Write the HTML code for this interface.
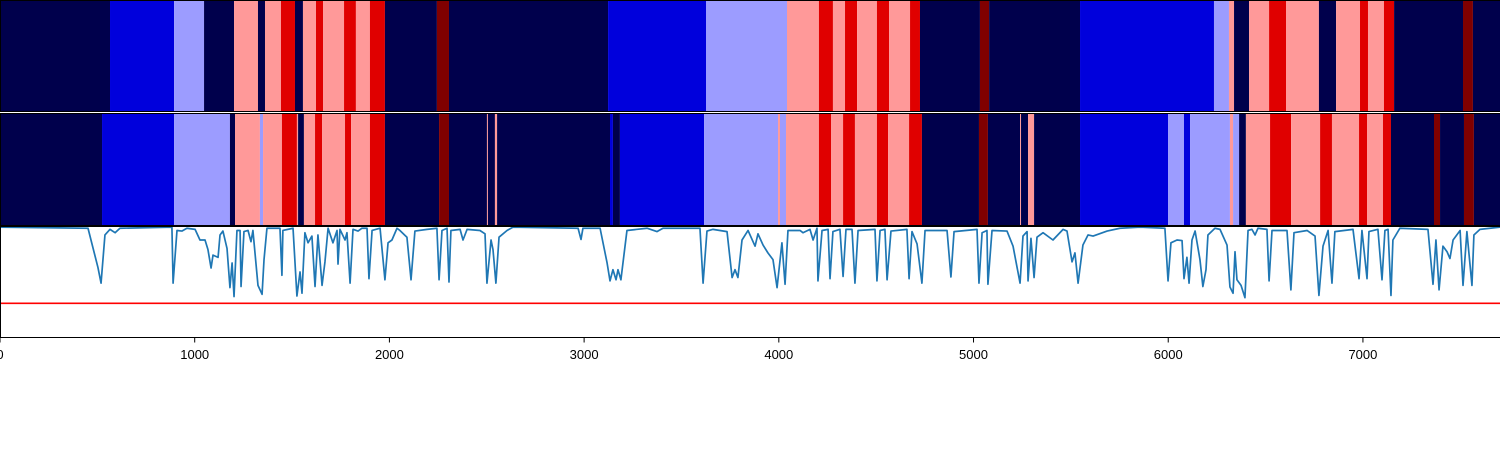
<!DOCTYPE html>
<html><head><meta charset="utf-8"><style>
html,body{margin:0;padding:0;background:#fff;width:1500px;height:450px;overflow:hidden}
svg{display:block;font-family:"Liberation Sans","DejaVu Sans",sans-serif}
</style></head><body>
<svg id="chart" width="1500" height="450"></svg>
<script>
const palette = ["#00004c","#0000dc","#9c9cff","#ff9999","#e00000","#800000"];
const topStarts = [0,565,894,1048,1202,1325,1361,1443,1515,1556,1623,1659,1767,1828,1900,1977,2244,2306,3123,3626,4042,4206,4278,4340,4402,4504,4566,4674,4725,5033,5080,5547,6235,6312,6338,6415,6518,6605,6774,6862,6985,7026,7108,7160,7514,7565];
const topClasses = [0,1,2,0,3,0,3,4,0,3,4,3,4,3,4,0,5,0,1,2,3,4,3,4,3,4,3,4,0,5,0,1,2,3,0,3,4,3,0,3,4,3,4,0,5,0];
const midStarts = [0,524,894,1181,1207,1335,1351,1448,1525,1531,1561,1618,1654,1772,1803,1900,1977,2255,2306,2501,2506,2542,2553,3133,3148,3184,3616,3996,4006,4037,4206,4268,4330,4391,4504,4561,4669,4735,5028,5074,5239,5244,5280,5311,5547,5999,6081,6112,6317,6333,6364,6399,6523,6631,6780,6841,6980,7021,7103,7144,7365,7396,7519,7570];
const midClasses = [0,1,2,0,3,2,3,4,3,0,3,4,3,4,3,4,0,5,0,3,0,3,0,1,0,1,2,3,2,3,4,3,4,3,4,3,4,0,5,0,3,0,3,0,1,2,1,2,3,2,0,3,4,3,4,3,4,3,4,0,5,0,5,0];
const lineX = [0,452,503,519,539,565,591,616,883,889,909,935,960,1002,1027,1053,1068,1084,1094,1120,1130,1145,1166,1181,1192,1202,1217,1233,1238,1253,1274,1289,1299,1325,1346,1356,1371,1438,1448,1453,1505,1525,1541,1551,1566,1582,1602,1618,1633,1654,1669,1685,1710,1731,1736,1746,1772,1782,1798,1813,1839,1859,1885,1895,1911,1952,1977,1993,2013,2039,2054,2090,2111,2131,2193,2244,2255,2270,2296,2306,2316,2363,2378,2399,2465,2491,2501,2522,2532,2547,2563,2604,2635,2969,2984,2994,3082,3118,3133,3148,3164,3174,3189,3220,3323,3374,3405,3595,3611,3631,3662,3734,3760,3775,3790,3811,3842,3878,3893,3919,3944,3970,3991,4016,4032,4047,4109,4124,4160,4176,4196,4201,4222,4253,4263,4278,4314,4330,4345,4376,4391,4407,4494,4504,4520,4545,4556,4576,4658,4669,4684,4710,4735,4751,4864,4884,4900,5018,5028,5044,5069,5074,5095,5172,5203,5239,5254,5275,5280,5295,5311,5326,5357,5408,5460,5480,5506,5521,5537,5562,5588,5614,5686,5752,5855,5983,5999,6014,6045,6071,6081,6096,6107,6122,6138,6163,6178,6194,6204,6240,6266,6302,6317,6333,6343,6353,6374,6394,6410,6430,6446,6461,6507,6518,6533,6610,6630,6646,6713,6754,6774,6795,6821,6841,6856,6949,6980,6995,7021,7031,7077,7098,7113,7129,7144,7154,7190,7334,7360,7375,7391,7411,7432,7447,7463,7499,7514,7534,7560,7570,7601,7704];
const lineY = [.99,.98,.63,.49,.92,.97,.94,.98,.99,.49,.96,.955,.98,.97,.875,.875,.79,.625,.74,.72,.92,.955,.80,.45,.67,.37,.96,.96,.46,.95,.96,.86,.96,.47,.39,.70,.98,.98,.56,.96,.98,.375,.59,.40,.94,.85,.91,.46,.92,.47,.68,.98,.85,.96,.66,.97,.875,.94,.49,.97,.955,.98,.98,.53,.96,.98,.52,.85,.875,.98,.96,.90,.52,.955,.97,.98,.52,.96,.98,.50,.96,.97,.875,.97,.96,.93,.49,.875,.79,.49,.90,.96,.99,.98,.88,.98,.98,.67,.51,.61,.52,.61,.52,.96,.98,.95,.98,.98,.49,.955,.97,.95,.54,.61,.54,.875,.96,.82,.93,.83,.76,.70,.45,.85,.48,.96,.96,.94,.97,.875,.98,.51,.96,.97,.53,.95,.97,.55,.97,.97,.49,.96,.97,.51,.96,.97,.52,.955,.97,.53,.95,.84,.49,.96,.96,.545,.95,.97,.49,.94,.96,.48,.96,.955,.82,.49,.91,.95,.51,.89,.54,.90,.94,.875,.97,.955,.68,.76,.49,.83,.92,.91,.955,.98,.99,.98,.51,.85,.875,.87,.53,.72,.49,.875,.955,.70,.46,.61,.92,.98,.97,.83,.455,.40,.77,.52,.47,.36,.96,.97,.92,.98,.97,.51,.96,.96,.43,.94,.96,.91,.38,.82,.96,.49,.95,.97,.53,.96,.53,.95,.97,.52,.96,.97,.38,.875,.98,.97,.48,.875,.43,.82,.77,.71,.875,.96,.47,.95,.47,.92,.97,.99];
const threshold = [0.31];
const xTicks = [0,1000,2000,3000,4000,5000,6000,7000];
const xMax = 7704;

const NS = "http://www.w3.org/2000/svg";
const svg = document.getElementById("chart");
const X0 = 0, X1 = 1500;
function xs(v){ return X0 + (v / xMax) * (X1 - X0); }
const panels = [{y:0,h:112},{y:113,h:113},{y:226,h:112}];
function ys(v){ return 338 - v * 112; }
function mk(tag, attrs){ const e = document.createElementNS(NS, tag); for (const k in attrs) e.setAttribute(k, attrs[k]); svg.appendChild(e); return e; }

function drawStrip(starts, classes, p, nm){
  for (let i = 0; i < starts.length; i++){
    const a = xs(starts[i]);
    const b = i + 1 < starts.length ? xs(starts[i+1]) : X1;
    const r = mk("rect", {x:a, y:p.y, width:Math.max(b - a, 0.5), height:p.h, fill:palette[classes[i]]});
    
    
  }
}
drawStrip(topStarts, topClasses, panels[0], 'top-strip');
drawStrip(midStarts, midClasses, panels[1], 'middle-strip');

// line
let d = "";
for (let i = 0; i < lineX.length; i++) d += (i ? "L" : "M") + xs(lineX[i]).toFixed(2) + "," + ys(lineY[i]).toFixed(2);
const pl = mk("path", {d:d, fill:"none", stroke:"#1f77b4", "stroke-width":1.7, "stroke-linejoin":"round"});


const th = mk("line", {x1:X0, x2:X1, y1:ys(threshold[0]), y2:ys(threshold[0]), stroke:"#ff0000", "stroke-width":1.6});



// frames
const names = ['top-panel-frame','middle-panel-frame','bottom-panel-frame'];
panels.forEach((p, i) => {
  const f = mk("rect", {x:0.5, y:p.y + 0.5, width:1500, height:p.h - 1, fill:"none", stroke:"#000", "stroke-width":1});
  
  
});
const sep = mk("line", {x1:0, x2:1500, y1:112.5, y2:112.5, stroke:"#fff", "stroke-width":1});



// ticks
xTicks.forEach(t => {
  const x = xs(t);
  const tk = mk("line", {x1:x, x2:x, y1:338, y2:342.5, stroke:"#000", "stroke-width":1});
  
  
  const lb = mk("text", {x:x, y:359, "text-anchor":"middle", "font-size":13, fill:"#000"});
  lb.textContent = t;
  
  
});
</script>
</body></html>
